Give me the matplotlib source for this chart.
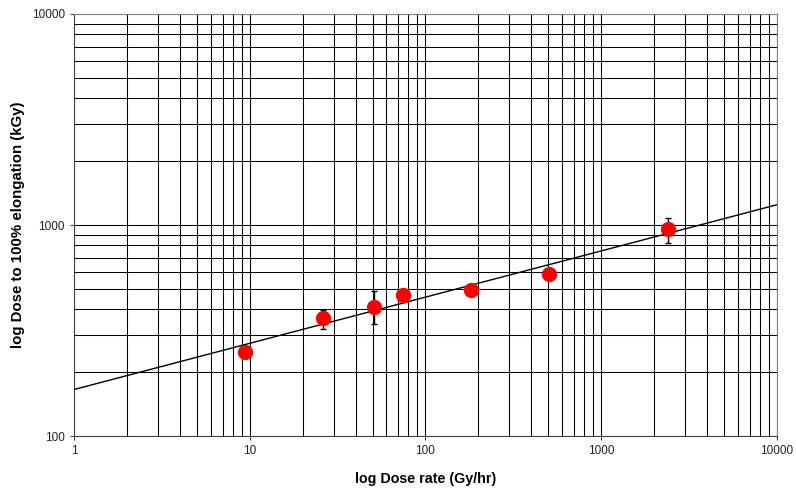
import numpy as np
import matplotlib
matplotlib.use("Agg")
import matplotlib.pyplot as plt
from matplotlib.ticker import LogLocator, NullFormatter, FixedLocator, FixedFormatter

plt.rcParams['font.family'] = ['Liberation Sans', 'DejaVu Sans']

# data
dose_rate = np.array([9.4, 26.1, 50.9, 74.5, 181.5, 504, 2408])
dose = np.array([250, 362, 408, 466, 492, 586, 955])
err_low = np.array([0, 41, 68, 0, 0, 0, 131])
err_high = np.array([0, 33, 81, 0, 0, 0, 124])

x_ticks = [1, 10, 100, 1000, 10000]
x_tick_labels = ['1', '10', '100', '1000', '10000']
y_ticks = [100, 1000, 10000]
y_tick_labels = ['100', '1000', '10000']

fig = plt.figure(figsize=(7.96, 4.91), dpi=100)
ax = fig.add_axes([0.093, 0.112, 0.883, 0.8595])
ax.set_xscale('log')
ax.set_yscale('log')
ax.set_xlim(1, 10000)
ax.set_ylim(100, 10000)

# grid: major and minor lines, all black
ax.xaxis.set_major_locator(FixedLocator(x_ticks))
ax.xaxis.set_major_formatter(FixedFormatter(x_tick_labels))
ax.yaxis.set_major_locator(FixedLocator(y_ticks))
ax.yaxis.set_major_formatter(FixedFormatter(y_tick_labels))
ax.xaxis.set_minor_locator(LogLocator(base=10, subs=np.arange(2, 10)))
ax.yaxis.set_minor_locator(LogLocator(base=10, subs=np.arange(2, 10)))
ax.xaxis.set_minor_formatter(NullFormatter())
ax.yaxis.set_minor_formatter(NullFormatter())
ax.grid(True, which='both', color='black', linewidth=0.75)
ax.tick_params(which='minor', length=0)
ax.tick_params(which='major', length=3, width=0.8, labelsize=8.5, color='#404040',
               labelcolor='#222222')
ax.set_axisbelow(True)

for s in ['top', 'right']:
    ax.spines[s].set_color('#808080')
for s in ['left', 'bottom']:
    ax.spines[s].set_color('#404040')

# power-law trend line (least squares in log space)
slope, icpt = np.polyfit(np.log10(dose_rate), np.log10(dose), 1)
xl = np.array([1, 10000])
ax.plot(xl, 10 ** icpt * xl ** slope, color='black', linewidth=1, zorder=3)

# error bars
m = (err_low > 0) | (err_high > 0)
ax.errorbar(dose_rate[m], dose[m], yerr=[err_low[m], err_high[m]], fmt='none',
            ecolor='black', elinewidth=1, capsize=2.5, capthick=1, zorder=4)

ax.plot(dose_rate, dose, 'o', color='#ff0000', markersize=10, zorder=5)

ax.set_xlabel('log Dose rate (Gy/hr)', fontsize=10.3, fontweight='bold', labelpad=11)
ax.set_ylabel('log Dose to 100% elongation (kGy)', fontsize=10.8, fontweight='bold')
ax.yaxis.set_label_coords(-0.070, 0.5)

fig.savefig('out.png', dpi=100)
